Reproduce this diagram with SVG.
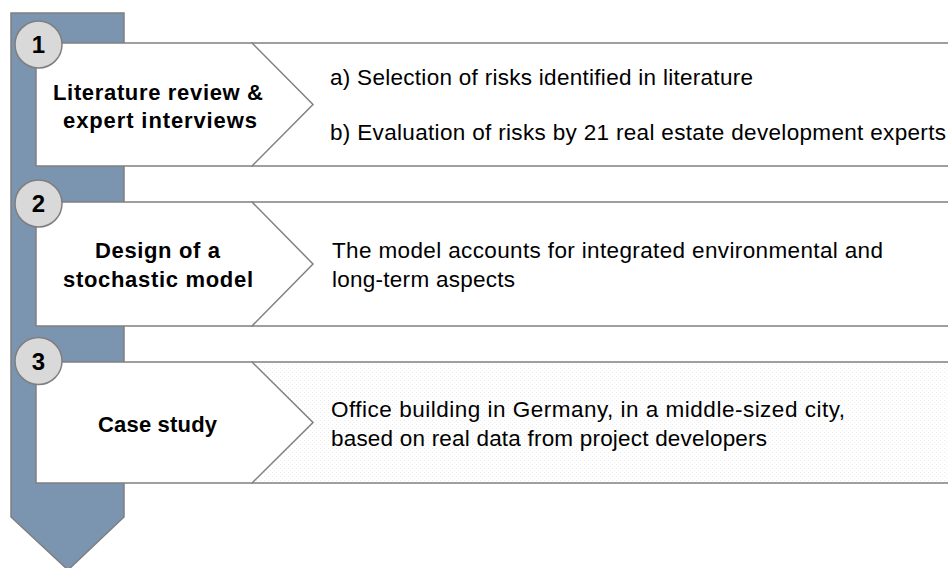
<svg xmlns="http://www.w3.org/2000/svg" width="948" height="568" viewBox="0 0 948 568">
  <defs>
    <pattern id="dots" width="4" height="4" patternUnits="userSpaceOnUse">
      <rect width="4" height="4" fill="#ffffff"/>
      <rect x="0" y="0" width="1" height="1" fill="#ececec"/>
      <rect x="2" y="2" width="1" height="1" fill="#f2f2f2"/>
    </pattern>
    <style>
      .panel { fill: #ffffff; stroke: #808080; stroke-width: 1.5; }
      .panel-dotted { fill: url(#dots); stroke: #808080; stroke-width: 1.5; }
      .chev { fill: #ffffff; stroke: #808080; stroke-width: 1.5; stroke-linejoin: miter; }
      .badge { fill: #d9d9d9; stroke: #7f7f7f; stroke-width: 1.5; }
      .num { font-family: "Liberation Sans", Arial, sans-serif; font-weight: bold; font-size: 24px; fill: #000000; text-anchor: middle; }
      .title { font-family: "Liberation Sans", Arial, sans-serif; font-weight: bold; font-size: 22px; fill: #000000; text-anchor: middle; }
      .body { font-family: "Liberation Sans", Arial, sans-serif; font-size: 22.5px; fill: #000000; }
    </style>
  </defs>

  <rect width="948" height="568" fill="#ffffff"/>

  <g id="connectors">
    <polygon id="flow-arrow" points="11,13 124,13 124,517 68,570 11,517" fill="#7b95b0" stroke="#7f7f7f" stroke-width="1.5"/>
  </g>

  <g id="step-1">
    <rect class="panel" x="252" y="43" width="720" height="123"/>
    <polygon class="chev" points="36,43 252,43 313,104.5 252,166 36,166"/>
    <circle class="badge" cx="38.5" cy="44.5" r="23.5"/>
    <text class="num" x="38.5" y="53">1</text>
    <text class="title" x="158" y="100" textLength="210" lengthAdjust="spacing">Literature review &amp;</text>
    <text class="title" x="160" y="128" textLength="194" lengthAdjust="spacing">expert interviews</text>
    <text class="body" x="330" y="85" textLength="423" lengthAdjust="spacing">a) Selection of risks identified in literature</text>
    <text class="body" x="330" y="140" textLength="616" lengthAdjust="spacing">b) Evaluation of risks by 21 real estate development experts</text>
  </g>

  <g id="step-2">
    <rect class="panel" x="252" y="202" width="720" height="124"/>
    <polygon class="chev" points="36,202 252,202 313,264 252,326 36,326"/>
    <circle class="badge" cx="38.5" cy="203.5" r="23.5"/>
    <text class="num" x="38.5" y="212">2</text>
    <text class="title" x="157.5" y="258" textLength="125" lengthAdjust="spacing">Design of a</text>
    <text class="title" x="158" y="287" textLength="190" lengthAdjust="spacing">stochastic model</text>
    <text class="body" x="332" y="258" textLength="551" lengthAdjust="spacing">The model accounts for integrated environmental and</text>
    <text class="body" x="332" y="287" textLength="183" lengthAdjust="spacing">long-term aspects</text>
  </g>

  <g id="step-3">
    <rect class="panel-dotted" x="252" y="362" width="720" height="121"/>
    <polygon class="chev" points="36,362 252,362 313,422.5 252,483 36,483"/>
    <circle class="badge" cx="38.5" cy="361" r="23.5"/>
    <text class="num" x="38.5" y="370">3</text>
    <text class="title" x="157.5" y="432" textLength="119" lengthAdjust="spacing">Case study</text>
    <text class="body" x="331" y="417" textLength="514" lengthAdjust="spacing">Office building in Germany, in a middle-sized city,</text>
    <text class="body" x="331" y="446" textLength="436" lengthAdjust="spacing">based on real data from project developers</text>
  </g>
</svg>
